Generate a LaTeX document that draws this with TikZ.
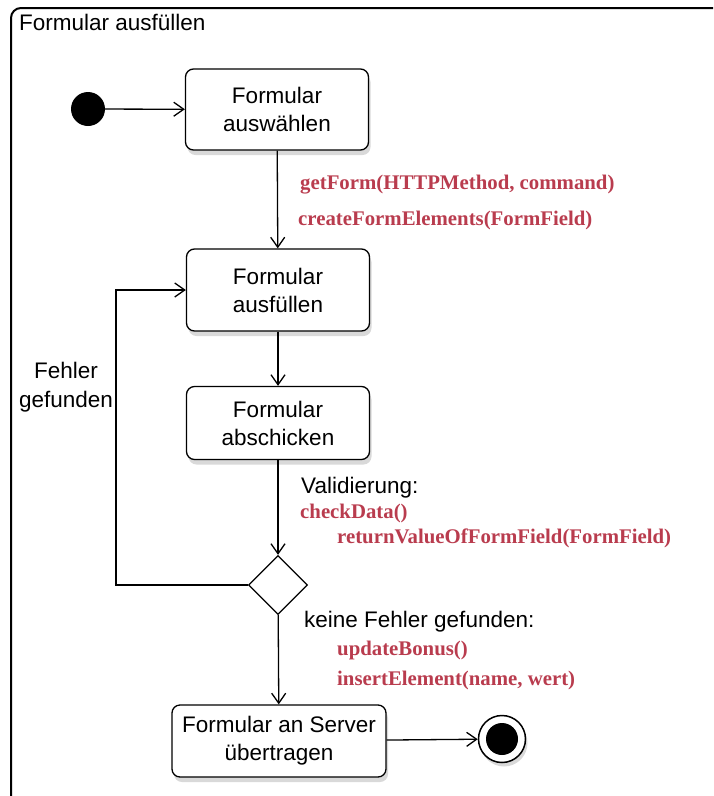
\documentclass[tikz,border=0pt]{standalone}
\usepackage{fontspec}
\setmainfont{Liberation Sans}
\newfontfamily\guardfont{Liberation Serif}
\usetikzlibrary{shapes.geometric,arrows.meta,shadows}
\definecolor{guardred}{RGB}{185,60,78}

\begin{document}
\begin{tikzpicture}[x=1pt,y=-1pt,
              activity/.style={
                  draw,
                  rounded corners=8pt,
                  fill=white,
                  line width=1.3pt,
                  align=center,
                  minimum width=183pt,
                  font=\fontsize{22.5}{28}\selectfont,
                  drop shadow={opacity=0.3,shadow xshift=2pt,shadow yshift=-5pt},
                },
              decision/.style={
                  draw,
                  diamond,
                  aspect=1,
                  fill=white,
                  line width=1.3pt,
                  inner sep=0pt,
                  minimum size=59pt,
                },
              startdot/.style={circle,fill=black,inner sep=0pt,minimum size=34pt},
              stopdot/.style={
                  circle,
                  draw,
                  fill=white,
                  line width=1.5pt,
                  inner sep=0pt,
                  minimum size=47pt,
                  drop shadow={opacity=0.3,shadow xshift=2pt,shadow yshift=-4pt},
                  path picture={\fill[black] (path picture bounding box.center) circle (16pt);},
                },
              guard/.style={text=guardred,anchor=west,inner sep=0pt,
                  font=\guardfont\bfseries\fontsize{20.8}{24}\selectfont},
              note/.style={anchor=west,inner sep=0pt,font=\fontsize{22.5}{28}\selectfont},
              flow/.style={-{Straight Barb[length=10pt,width=14pt]},line width=1.3pt}
            ]
            \useasboundingbox (0,0) rectangle (713,796);
            % frame
            \begin{scope}
              \clip (0,0) rectangle (713,796);
              \draw[line width=2pt,rounded corners=10pt] (11,830) |- (760,8);
            \end{scope}
            \node[note] (title) at (19,22) {Formular ausfüllen};

            \node[startdot] (start) at (88,109) {};
            \node[activity,minimum height=81pt] (choose) at (277,109.5) {Formular\\auswählen};
            \node[activity,minimum height=82pt] (fill) at (278,290) {Formular\\ausfüllen};
            \node[activity,minimum height=73pt] (send) at (278,423) {Formular\\abschicken};
            \node[decision] (check) at (278,585) {};
            \node[activity,minimum width=214pt,minimum height=72pt] (server) at (279,741) {Formular an Server\\übertragen};
            \node[stopdot] (stop) at (502,739) {};
            \coordinate (loopturn) at (116,585);

            \path[flow]
            (start) edge (choose)
            (choose) edge (fill)
            (fill) edge (send)
            (send) edge (check)
            (check) edge (server)
            (server) edge (stop)
            ;
            \draw[flow] (check.west) -- (loopturn) |- (fill.west);

            % labels
            \node[guard] (getform) at (300,185) {getForm(HTTPMethod, command)};
            \node[guard] (create) at (298,220) {createFormElements(FormField)};
            \node[note] (valid) at (301,488) {Validierung:};
            \node[guard] (checkdata) at (300,513) {checkData()};
            \node[guard] (retval) at (337,538) {returnValueOfFormField(FormField)};
            \node[note] (nofail) at (304,622) {keine Fehler gefunden:};
            \node[guard] (bonus) at (337,650) {updateBonus()};
            \node[guard] (insert) at (337,680) {insertElement(name, wert)};
            \node[align=center,inner sep=0pt,font=\fontsize{22.5}{29}\selectfont] (fail) at (66,387) {Fehler\\gefunden};
          \end{tikzpicture}
\end{document}
